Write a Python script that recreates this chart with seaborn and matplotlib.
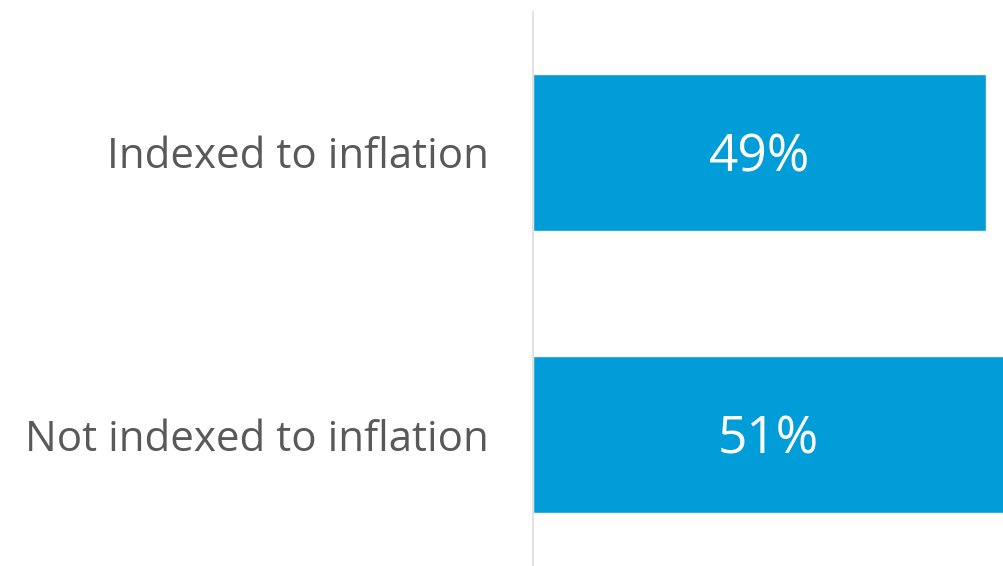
import matplotlib
matplotlib.use("Agg")
import matplotlib.pyplot as plt
import seaborn as sns
import pandas as pd

categories = ["Indexed to inflation", "Not indexed to inflation"]
values = [49, 51]
value_labels = ["49%", "51%"]

sns.set_theme(style="white")
plt.rcParams['font.family'] = ['Open Sans', 'DejaVu Sans']

df = pd.DataFrame({"category": categories, "value": values})

fig = plt.figure(figsize=(10.04, 5.66), dpi=100)
ax = fig.add_axes([533/1004, 0, 1 - 533/1004, (566-12)/566])

sns.barplot(data=df, y="category", x="value", orient="h", color="#009DD9",
            saturation=1, width=0.557, ax=ax)

ax.set_xlim(0, 51.0)
ax.set_ylim(1.466, -0.498)
ax.set_xlabel("")
ax.set_ylabel("")
ax.set_xticks([])
for s in ["top", "right", "bottom"]:
    ax.spines[s].set_visible(False)
ax.spines["left"].set_color("#DDDDDD")
ax.spines["left"].set_linewidth(1.2)
ax.tick_params(axis="y", length=0, pad=32, labelsize=30.3, labelcolor="#595959")

for i, (v, lab) in enumerate(zip(values, value_labels)):
    ax.text(v / 2, i + 0.02, lab, ha="center", va="center", color="white", fontsize=37)

fig.savefig("out.png", dpi=100)
